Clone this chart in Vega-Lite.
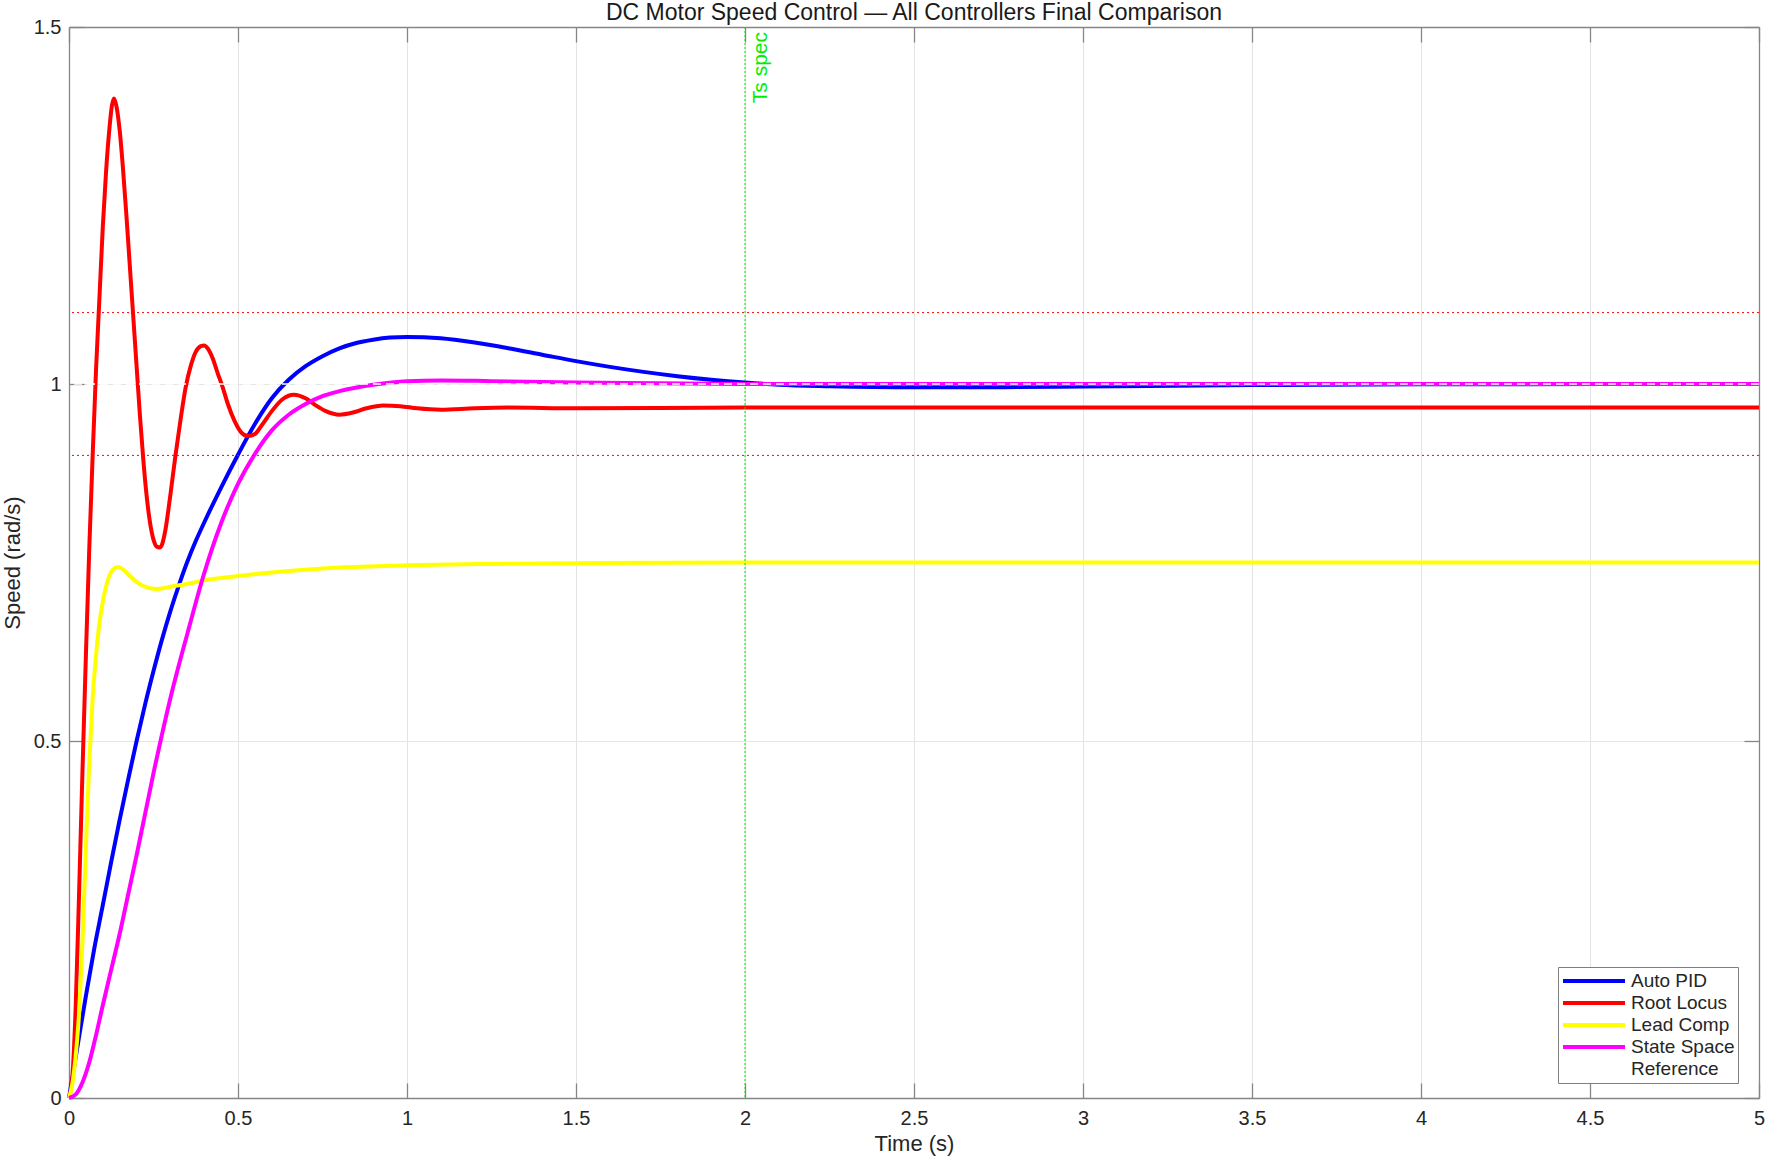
{
  "$schema": "https://vega.github.io/schema/vega-lite/v6.json",
  "width": 1690,
  "height": 1071,
  "autosize": {"type": "none"},
  "padding": {"left": 69, "top": 27, "right": 7, "bottom": 61},
  "background": "white",
  "title": {"text": "DC Motor Speed Control — All Controllers Final Comparison", "font": "Liberation Sans", "fontSize": 23, "fontWeight": "normal", "color": "#1a1a1a", "anchor": "middle", "offset": -8},
  "config": {
    "view": {"stroke": null},
    "axis": {
      "domainColor": "#868686", "domainWidth": 1.3,
      "tickColor": "#868686", "tickWidth": 1.3, "tickSize": -15,
      "labelFont": "Liberation Sans", "labelFontSize": 20, "labelColor": "#262626",
      "labelFlush": false, "labelOverlap": false,
      "titleFont": "Liberation Sans", "titleFontSize": 22, "titleFontWeight": "normal", "titleColor": "#262626",
      "gridColor": "#e4e4e4", "gridWidth": 1
    },
    "legend": {
      "labelFont": "Liberation Sans", "labelFontSize": 19, "labelColor": "#262626",
      "symbolType": "stroke", "symbolSize": 3844, "symbolStrokeWidth": 4, "clipHeight": 22,
      "labelOffset": 4, "rowPadding": 0, "padding": 3,
      "fillColor": "white", "strokeColor": "#7f7f7f"
    }
  },
  "datasets": {
    "resp": [
      {"s": "Auto PID", "t": 0, "v": 0}, {"s": "Auto PID", "t": 0.025, "v": 0.072}, {"s": "Auto PID", "t": 0.05, "v": 0.143},
      {"s": "Auto PID", "t": 0.075, "v": 0.21}, {"s": "Auto PID", "t": 0.1, "v": 0.27}, {"s": "Auto PID", "t": 0.125, "v": 0.331},
      {"s": "Auto PID", "t": 0.15, "v": 0.39}, {"s": "Auto PID", "t": 0.175, "v": 0.446}, {"s": "Auto PID", "t": 0.2, "v": 0.5},
      {"s": "Auto PID", "t": 0.225, "v": 0.551}, {"s": "Auto PID", "t": 0.25, "v": 0.598}, {"s": "Auto PID", "t": 0.275, "v": 0.642},
      {"s": "Auto PID", "t": 0.3, "v": 0.682}, {"s": "Auto PID", "t": 0.325, "v": 0.718}, {"s": "Auto PID", "t": 0.35, "v": 0.751},
      {"s": "Auto PID", "t": 0.375, "v": 0.78}, {"s": "Auto PID", "t": 0.4, "v": 0.806}, {"s": "Auto PID", "t": 0.45, "v": 0.855},
      {"s": "Auto PID", "t": 0.5, "v": 0.901}, {"s": "Auto PID", "t": 0.55, "v": 0.944}, {"s": "Auto PID", "t": 0.6, "v": 0.98},
      {"s": "Auto PID", "t": 0.65, "v": 1.006}, {"s": "Auto PID", "t": 0.7, "v": 1.025}, {"s": "Auto PID", "t": 0.75, "v": 1.039},
      {"s": "Auto PID", "t": 0.8, "v": 1.05}, {"s": "Auto PID", "t": 0.85, "v": 1.0575}, {"s": "Auto PID", "t": 0.9, "v": 1.062},
      {"s": "Auto PID", "t": 0.95, "v": 1.065}, {"s": "Auto PID", "t": 1.0, "v": 1.066}, {"s": "Auto PID", "t": 1.05, "v": 1.0655},
      {"s": "Auto PID", "t": 1.1, "v": 1.064}, {"s": "Auto PID", "t": 1.2, "v": 1.058}, {"s": "Auto PID", "t": 1.3, "v": 1.05},
      {"s": "Auto PID", "t": 1.4, "v": 1.041}, {"s": "Auto PID", "t": 1.5, "v": 1.032}, {"s": "Auto PID", "t": 1.6, "v": 1.024},
      {"s": "Auto PID", "t": 1.7, "v": 1.017}, {"s": "Auto PID", "t": 1.8, "v": 1.011}, {"s": "Auto PID", "t": 1.9, "v": 1.006},
      {"s": "Auto PID", "t": 2.0, "v": 1.002}, {"s": "Auto PID", "t": 2.1, "v": 0.999}, {"s": "Auto PID", "t": 2.25, "v": 0.997},
      {"s": "Auto PID", "t": 2.5, "v": 0.9955}, {"s": "Auto PID", "t": 2.75, "v": 0.9955}, {"s": "Auto PID", "t": 3.0, "v": 0.9965},
      {"s": "Auto PID", "t": 3.5, "v": 0.9985}, {"s": "Auto PID", "t": 4.0, "v": 0.9995}, {"s": "Auto PID", "t": 5.0, "v": 1.0},

      {"s": "Root Locus", "t": 0, "v": 0}, {"s": "Root Locus", "t": 0.01, "v": 0.03}, {"s": "Root Locus", "t": 0.02, "v": 0.13},
      {"s": "Root Locus", "t": 0.03, "v": 0.29}, {"s": "Root Locus", "t": 0.04, "v": 0.46}, {"s": "Root Locus", "t": 0.05, "v": 0.62},
      {"s": "Root Locus", "t": 0.06, "v": 0.77}, {"s": "Root Locus", "t": 0.07, "v": 0.9}, {"s": "Root Locus", "t": 0.08, "v": 1.02},
      {"s": "Root Locus", "t": 0.09, "v": 1.12}, {"s": "Root Locus", "t": 0.1, "v": 1.22}, {"s": "Root Locus", "t": 0.11, "v": 1.3},
      {"s": "Root Locus", "t": 0.12, "v": 1.36}, {"s": "Root Locus", "t": 0.127, "v": 1.39}, {"s": "Root Locus", "t": 0.133, "v": 1.4},
      {"s": "Root Locus", "t": 0.14, "v": 1.39}, {"s": "Root Locus", "t": 0.15, "v": 1.355}, {"s": "Root Locus", "t": 0.16, "v": 1.3},
      {"s": "Root Locus", "t": 0.17, "v": 1.235}, {"s": "Root Locus", "t": 0.18, "v": 1.165}, {"s": "Root Locus", "t": 0.19, "v": 1.095},
      {"s": "Root Locus", "t": 0.2, "v": 1.025}, {"s": "Root Locus", "t": 0.21, "v": 0.955}, {"s": "Root Locus", "t": 0.22, "v": 0.893},
      {"s": "Root Locus", "t": 0.23, "v": 0.842}, {"s": "Root Locus", "t": 0.24, "v": 0.805}, {"s": "Root Locus", "t": 0.25, "v": 0.782},
      {"s": "Root Locus", "t": 0.26, "v": 0.772}, {"s": "Root Locus", "t": 0.268, "v": 0.771}, {"s": "Root Locus", "t": 0.275, "v": 0.775},
      {"s": "Root Locus", "t": 0.285, "v": 0.795}, {"s": "Root Locus", "t": 0.3, "v": 0.845}, {"s": "Root Locus", "t": 0.315, "v": 0.9},
      {"s": "Root Locus", "t": 0.33, "v": 0.95}, {"s": "Root Locus", "t": 0.345, "v": 0.995}, {"s": "Root Locus", "t": 0.36, "v": 1.025},
      {"s": "Root Locus", "t": 0.375, "v": 1.045}, {"s": "Root Locus", "t": 0.39, "v": 1.053}, {"s": "Root Locus", "t": 0.4, "v": 1.054},
      {"s": "Root Locus", "t": 0.41, "v": 1.05}, {"s": "Root Locus", "t": 0.425, "v": 1.036}, {"s": "Root Locus", "t": 0.44, "v": 1.015},
      {"s": "Root Locus", "t": 0.455, "v": 0.995}, {"s": "Root Locus", "t": 0.47, "v": 0.972}, {"s": "Root Locus", "t": 0.49, "v": 0.948},
      {"s": "Root Locus", "t": 0.51, "v": 0.932}, {"s": "Root Locus", "t": 0.53, "v": 0.927}, {"s": "Root Locus", "t": 0.55, "v": 0.93},
      {"s": "Root Locus", "t": 0.57, "v": 0.942}, {"s": "Root Locus", "t": 0.6, "v": 0.962}, {"s": "Root Locus", "t": 0.63, "v": 0.978},
      {"s": "Root Locus", "t": 0.665, "v": 0.985}, {"s": "Root Locus", "t": 0.7, "v": 0.98}, {"s": "Root Locus", "t": 0.73, "v": 0.97},
      {"s": "Root Locus", "t": 0.76, "v": 0.962}, {"s": "Root Locus", "t": 0.8, "v": 0.957}, {"s": "Root Locus", "t": 0.84, "v": 0.96},
      {"s": "Root Locus", "t": 0.88, "v": 0.966}, {"s": "Root Locus", "t": 0.93, "v": 0.97}, {"s": "Root Locus", "t": 0.98, "v": 0.969},
      {"s": "Root Locus", "t": 1.03, "v": 0.966}, {"s": "Root Locus", "t": 1.1, "v": 0.964}, {"s": "Root Locus", "t": 1.2, "v": 0.966},
      {"s": "Root Locus", "t": 1.3, "v": 0.967}, {"s": "Root Locus", "t": 1.5, "v": 0.966}, {"s": "Root Locus", "t": 2.0, "v": 0.967},
      {"s": "Root Locus", "t": 5.0, "v": 0.967},

      {"s": "Lead Comp", "t": 0, "v": 0}, {"s": "Lead Comp", "t": 0.01, "v": 0.02}, {"s": "Lead Comp", "t": 0.02, "v": 0.06},
      {"s": "Lead Comp", "t": 0.03, "v": 0.12}, {"s": "Lead Comp", "t": 0.04, "v": 0.22}, {"s": "Lead Comp", "t": 0.05, "v": 0.35},
      {"s": "Lead Comp", "t": 0.06, "v": 0.47}, {"s": "Lead Comp", "t": 0.07, "v": 0.56}, {"s": "Lead Comp", "t": 0.08, "v": 0.62},
      {"s": "Lead Comp", "t": 0.09, "v": 0.665}, {"s": "Lead Comp", "t": 0.1, "v": 0.695}, {"s": "Lead Comp", "t": 0.11, "v": 0.717},
      {"s": "Lead Comp", "t": 0.12, "v": 0.732}, {"s": "Lead Comp", "t": 0.13, "v": 0.74}, {"s": "Lead Comp", "t": 0.145, "v": 0.744},
      {"s": "Lead Comp", "t": 0.16, "v": 0.74}, {"s": "Lead Comp", "t": 0.18, "v": 0.731}, {"s": "Lead Comp", "t": 0.2, "v": 0.723},
      {"s": "Lead Comp", "t": 0.22, "v": 0.717}, {"s": "Lead Comp", "t": 0.24, "v": 0.714}, {"s": "Lead Comp", "t": 0.26, "v": 0.713},
      {"s": "Lead Comp", "t": 0.28, "v": 0.714}, {"s": "Lead Comp", "t": 0.3, "v": 0.716}, {"s": "Lead Comp", "t": 0.35, "v": 0.72},
      {"s": "Lead Comp", "t": 0.4, "v": 0.725}, {"s": "Lead Comp", "t": 0.5, "v": 0.731}, {"s": "Lead Comp", "t": 0.6, "v": 0.736},
      {"s": "Lead Comp", "t": 0.7, "v": 0.74}, {"s": "Lead Comp", "t": 0.8, "v": 0.743}, {"s": "Lead Comp", "t": 1.0, "v": 0.746},
      {"s": "Lead Comp", "t": 1.25, "v": 0.748}, {"s": "Lead Comp", "t": 1.5, "v": 0.749}, {"s": "Lead Comp", "t": 2.0, "v": 0.75},
      {"s": "Lead Comp", "t": 5.0, "v": 0.75},

      {"s": "State Space", "t": 0, "v": 0}, {"s": "State Space", "t": 0.02, "v": 0.005}, {"s": "State Space", "t": 0.04, "v": 0.022},
      {"s": "State Space", "t": 0.06, "v": 0.05}, {"s": "State Space", "t": 0.08, "v": 0.088}, {"s": "State Space", "t": 0.1, "v": 0.13},
      {"s": "State Space", "t": 0.125, "v": 0.18}, {"s": "State Space", "t": 0.15, "v": 0.23}, {"s": "State Space", "t": 0.175, "v": 0.285},
      {"s": "State Space", "t": 0.2, "v": 0.34}, {"s": "State Space", "t": 0.25, "v": 0.455}, {"s": "State Space", "t": 0.3, "v": 0.56},
      {"s": "State Space", "t": 0.35, "v": 0.65}, {"s": "State Space", "t": 0.4, "v": 0.735}, {"s": "State Space", "t": 0.45, "v": 0.805},
      {"s": "State Space", "t": 0.5, "v": 0.86}, {"s": "State Space", "t": 0.55, "v": 0.902}, {"s": "State Space", "t": 0.6, "v": 0.935},
      {"s": "State Space", "t": 0.65, "v": 0.957}, {"s": "State Space", "t": 0.7, "v": 0.972}, {"s": "State Space", "t": 0.75, "v": 0.983},
      {"s": "State Space", "t": 0.8, "v": 0.99}, {"s": "State Space", "t": 0.9, "v": 0.999}, {"s": "State Space", "t": 1.0, "v": 1.004},
      {"s": "State Space", "t": 1.1, "v": 1.005}, {"s": "State Space", "t": 1.25, "v": 1.004}, {"s": "State Space", "t": 1.5, "v": 1.002},
      {"s": "State Space", "t": 1.75, "v": 1.001}, {"s": "State Space", "t": 2.0, "v": 1.0}, {"s": "State Space", "t": 5.0, "v": 1.0}
    ],
    "bands": [{"v": 1.1}, {"v": 0.9}],
    "ts": [{"t": 2, "v": 1.5, "label": "Ts spec"}],
    "ref": [{"s": "Reference", "v": 1}]
  },
  "resolve": {"axis": {"x": "independent", "y": "independent"}},
  "layer": [
    {
      "data": {"name": "resp"},
      "mark": {"type": "line", "strokeWidth": 4, "interpolate": "monotone"},
      "encoding": {
        "x": {"field": "t", "type": "quantitative", "scale": {"domain": [0, 5], "nice": false},
              "axis": {"orient": "bottom", "title": "Time (s)", "values": [0, 0.5, 1, 1.5, 2, 2.5, 3, 3.5, 4, 4.5, 5], "format": ".1~f", "grid": true, "labelPadding": 25, "titlePadding": 5}},
        "y": {"field": "v", "type": "quantitative", "scale": {"domain": [0, 1.5], "nice": false},
              "axis": {"orient": "left", "title": "Speed (rad/s)", "values": [0, 0.5, 1, 1.5], "format": ".1~f", "grid": true, "labelPadding": 23, "titlePadding": 9}},
        "color": {"field": "s", "type": "nominal",
                  "scale": {"domain": ["Auto PID", "Root Locus", "Lead Comp", "State Space", "Reference"], "range": ["#0000ff", "#ff0000", "#ffff00", "#ff00ff", "#ffffff"]},
                  "legend": {"title": null, "orient": "none", "legendX": 1489, "legendY": 940}}
      }
    },
    {
      "data": {"name": "bands"},
      "mark": {"type": "rule", "color": "#ff0000", "strokeWidth": 1, "strokeDash": [2, 3]},
      "encoding": {
        "y": {"field": "v", "type": "quantitative", "axis": {"orient": "right", "title": null, "labels": false, "grid": false, "values": [0, 0.5, 1, 1.5]}}
      }
    },
    {
      "data": {"name": "ts"},
      "mark": {"type": "rule", "color": "#00e000", "strokeWidth": 1, "strokeDash": [2, 2]},
      "encoding": {
        "x": {"field": "t", "type": "quantitative", "axis": {"orient": "top", "title": null, "labels": false, "grid": false, "values": [0, 0.5, 1, 1.5, 2, 2.5, 3, 3.5, 4, 4.5, 5]}}
      }
    },
    {
      "data": {"name": "ts"},
      "mark": {"type": "text", "angle": 270, "align": "right", "baseline": "top", "dx": -5, "dy": 5, "font": "Liberation Sans", "fontSize": 21, "color": "#00ee00"},
      "encoding": {
        "x": {"field": "t", "type": "quantitative", "axis": null},
        "y": {"field": "v", "type": "quantitative", "axis": null},
        "text": {"field": "label"}
      }
    },
    {
      "data": {"name": "ref"},
      "mark": {"type": "rule", "strokeWidth": 1.5, "strokeDash": [8, 5]},
      "encoding": {
        "y": {"field": "v", "type": "quantitative", "axis": null},
        "color": {"field": "s", "type": "nominal",
                  "scale": {"domain": ["Auto PID", "Root Locus", "Lead Comp", "State Space", "Reference"], "range": ["#0000ff", "#ff0000", "#ffff00", "#ff00ff", "#ffffff"]}}
      }
    }
  ]
}
